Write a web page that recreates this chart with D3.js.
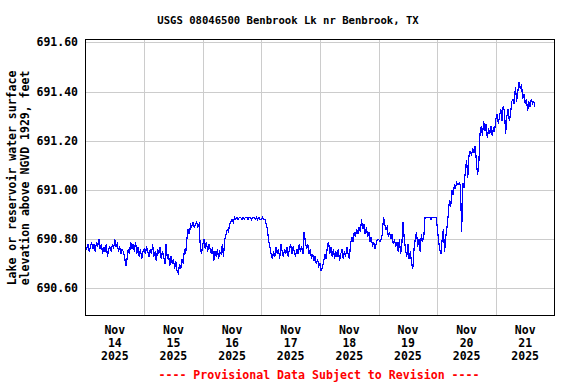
<!DOCTYPE html>
<html>
<head>
<meta charset="utf-8">
<script src="https://cdn.jsdelivr.net/npm/d3@7"></script>
<style>
  body { margin: 0; background: #fff; }
  text { font-family: "DejaVu Sans Mono", monospace; font-weight: bold; }
</style>
</head>
<body>
<svg id="chart"></svg>
<script>
const width = 576;
const height = 384;
const plotLeft = 85.5, plotRight = 554.5, plotTop = 39.5, plotBottom = 315.5;

const title = 'USGS 08046500 Benbrook Lk nr Benbrook, TX';
const yTitle = ['Lake or reservoir water surface', 'elevation above NGVD 1929, feet'];
const footer = '---- Provisional Data Subject to Revision ----';
const yTicks = [690.6, 690.8, 691.0, 691.2, 691.4, 691.6];
const dayLabels = ['14', '15', '16', '17', '18', '19', '20', '21'];

// lake elevation, feet, every 30 minutes from Nov 14 00:00
const nov14 = [690.77, 690.76, 690.78, 690.75, 690.77, 690.79, 690.76, 690.78, 690.75, 690.79, 690.77, 690.80,
    690.76, 690.78, 690.74, 690.77, 690.75, 690.78, 690.73, 690.76, 690.77, 690.75, 690.78, 690.76,
    690.80, 690.77, 690.78, 690.75, 690.77, 690.74, 690.76, 690.75, 690.73, 690.69, 690.72, 690.76,
    690.74, 690.79, 690.76, 690.78, 690.75, 690.79, 690.74, 690.77, 690.73, 690.76, 690.72, 690.75];
const nov15 = [690.76, 690.74, 690.77, 690.75, 690.73, 690.76, 690.74, 690.78, 690.73, 690.75, 690.71, 690.76,
    690.74, 690.77, 690.72, 690.75, 690.73, 690.70, 690.78, 690.72, 690.74, 690.69, 690.73, 690.70,
    690.72, 690.68, 690.71, 690.67, 690.66, 690.70, 690.68, 690.72, 690.70, 690.76, 690.74, 690.80,
    690.84, 690.82, 690.86, 690.85, 690.87, 690.85, 690.86, 690.87, 690.85, 690.86, 690.77, 690.74];
const nov16 = [690.78, 690.80, 690.76, 690.79, 690.75, 690.78, 690.76, 690.74, 690.77, 690.71, 690.75, 690.73,
    690.76, 690.72, 690.75, 690.74, 690.78, 690.73, 690.80, 690.82, 690.84, 690.83, 690.86, 690.87,
    690.88, 690.87, 690.89, 690.88, 690.89, 690.88, 690.89, 690.89, 690.88, 690.89, 690.88, 690.89,
    690.89, 690.88, 690.89, 690.89, 690.88, 690.89, 690.89, 690.88, 690.89, 690.88, 690.89, 690.88];
const nov17 = [690.88, 690.89, 690.88, 690.88, 690.86, 690.84, 690.79, 690.77, 690.74, 690.72, 690.75, 690.73,
    690.77, 690.74, 690.76, 690.72, 690.78, 690.75, 690.73, 690.76, 690.74, 690.77, 690.73, 690.76,
    690.78, 690.74, 690.77, 690.75, 690.73, 690.76, 690.74, 690.78, 690.75, 690.77, 690.74, 690.83,
    690.79, 690.76, 690.78, 690.74, 690.76, 690.72, 690.74, 690.71, 690.73, 690.70, 690.72, 690.69];
const nov18 = [690.70, 690.67, 690.69, 690.71, 690.74, 690.72, 690.77, 690.79, 690.74, 690.77, 690.73, 690.76,
    690.72, 690.75, 690.73, 690.76, 690.71, 690.74, 690.76, 690.72, 690.75, 690.73, 690.77, 690.74,
    690.72, 690.78, 690.81, 690.79, 690.83, 690.81, 690.84, 690.82, 690.85, 690.83, 690.88, 690.84,
    690.86, 690.82, 690.85, 690.81, 690.83, 690.79, 690.81, 690.77, 690.79, 690.76, 690.78, 690.80];
const nov19 = [690.80, 690.79, 690.80, 690.82, 690.89, 690.86, 690.84, 690.85, 690.81, 690.83, 690.80, 690.82,
    690.78, 690.80, 690.77, 690.79, 690.75, 690.80, 690.74, 690.78, 690.87, 690.80, 690.76, 690.73,
    690.78, 690.72, 690.75, 690.70, 690.68, 690.76, 690.80, 690.83, 690.77, 690.80, 690.75, 690.82,
    690.79, 690.81, 690.89, 690.89, 690.89, 690.89, 690.89, 690.88, 690.89, 690.89, 690.89, 690.89];
const nov20 = [690.85, 690.80, 690.76, 690.74, 690.80, 690.84, 690.75, 690.81, 690.85, 690.90, 690.96, 690.93,
    691.00, 690.98, 691.02, 691.01, 691.03, 691.02, 691.03, 691.02, 690.83, 691.03, 691.01, 691.08,
    691.12, 691.05, 691.14, 691.16, 691.14, 691.17, 691.15, 691.18, 691.12, 691.06, 691.10, 691.23,
    691.26, 691.22, 691.28, 691.24, 691.27, 691.21, 691.25, 691.23, 691.26, 691.22, 691.25, 691.24];
const nov21 = [691.29, 691.31, 691.27, 691.30, 691.33, 691.28, 691.34, 691.32, 691.23, 691.30, 691.33, 691.28,
    691.31, 691.36, 691.37, 691.35, 691.42, 691.36, 691.40, 691.44, 691.41, 691.43, 691.37, 691.39,
    691.35, 691.37, 691.32, 691.36, 691.34, 691.37, 691.35, 691.36, 691.34];

const start = new Date(2025, 10, 14);
const step = 30 * 60 * 1000;
const values = [].concat(nov14, nov15, nov16, nov17, nov18, nov19, nov20, nov21);
const data = values.map((v, i) => ({ t: new Date(+start + i * step), v: v }));

const svg = d3.select('#chart')
    .attr('width', width)
    .attr('height', height);

const x = d3.scaleTime()
    .domain([start, new Date(2025, 10, 22)])
    .range([plotLeft, plotRight]);
const y = d3.scaleLinear()
    .domain([690.49, 691.612])
    .range([plotBottom, plotTop]);

const days = d3.range(1, 8).map(d => new Date(2025, 10, 14 + d));

svg.append('g').selectAll('line').data(yTicks).enter().append('line')
    .attr('x1', plotLeft).attr('x2', plotRight)
    .attr('y1', d => Math.round(y(d)) + 0.5).attr('y2', d => Math.round(y(d)) + 0.5)
    .attr('stroke', '#cccccc').attr('stroke-width', 1);

svg.append('g').selectAll('line').data(days).enter().append('line')
    .attr('x1', d => Math.round(x(d)) + 0.5).attr('x2', d => Math.round(x(d)) + 0.5)
    .attr('y1', plotTop).attr('y2', plotBottom)
    .attr('stroke', '#cccccc').attr('stroke-width', 1);

const line = d3.line()
    .x(d => x(d.t))
    .y(d => y(d.v));

svg.append('path')
    .datum(data)
    .attr('fill', 'none')
    .attr('stroke', '#0000ff')
    .attr('stroke-width', 1.2)
    .attr('shape-rendering', 'crispEdges')
    .attr('d', line);

svg.append('rect')
    .attr('x', plotLeft).attr('y', plotTop)
    .attr('width', plotRight - plotLeft).attr('height', plotBottom - plotTop)
    .attr('fill', 'none').attr('stroke', '#000').attr('stroke-width', 1);

svg.append('g').selectAll('text').data(yTicks).enter().append('text')
    .attr('x', 78)
    .attr('y', d => y(d))
    .attr('dy', '0.35em')
    .attr('text-anchor', 'end')
    .style('font-size', '11.5px')
    .text(d => d.toFixed(2));

const xLabels = svg.append('g').selectAll('text').data(dayLabels).enter().append('text')
    .attr('text-anchor', 'middle')
    .style('font-size', '11.5px')
    .attr('transform', (d, i) => `translate(${x(new Date(2025, 10, 14 + i, 12))}, 0)`);
xLabels.append('tspan').attr('x', 0).attr('y', 334).text('Nov');
xLabels.append('tspan').attr('x', 0).attr('y', 347).text(d => d);
xLabels.append('tspan').attr('x', 0).attr('y', 360).text('2025');

svg.append('text')
    .attr('x', 288).attr('y', 24)
    .attr('text-anchor', 'middle')
    .style('font-size', '10.6px')
    .text(title);

svg.append('g').selectAll('text').data(yTitle).enter().append('text')
    .attr('transform', (d, i) => `translate(${i ? 29 : 16}, 178) rotate(-90)`)
    .attr('text-anchor', 'middle')
    .style('font-size', '11.5px')
    .text(d => d);

svg.append('text')
    .attr('x', 319).attr('y', 379)
    .attr('text-anchor', 'middle')
    .attr('fill', '#ff0000')
    .style('font-size', '11.6px')
    .text(footer);
</script>
</body>
</html>
